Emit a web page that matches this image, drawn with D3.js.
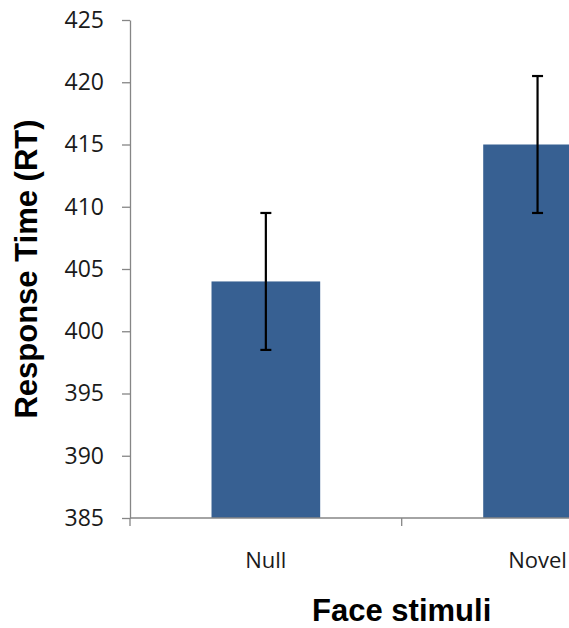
<!DOCTYPE html>
<html>
<head>
<meta charset="utf-8">
<script src="https://cdn.jsdelivr.net/npm/d3@7"></script>
<style>
  html, body { margin: 0; padding: 0; background: #fff; overflow: hidden; }
</style>
</head>
<body>
<svg id="chart"></svg>
<script>
// data
const categories = ["Null", "Novel"];
const meanRT = [404, 415];
const errRT = [5.5, 5.5];
const yTicks = [385, 390, 395, 400, 405, 410, 415, 420, 425];

const width = 569, height = 628;
const plotLeft = 130, plotRight = 673.4, plotTop = 20, plotBottom = 518;

const svg = d3.select("#chart")
  .attr("width", width)
  .attr("height", height);

const x = d3.scaleBand()
  .domain(categories)
  .range([plotLeft, plotRight])
  .paddingInner(0.6)
  .paddingOuter(0.3);

const y = d3.scaleLinear()
  .domain([385, 425])
  .range([plotBottom, plotTop]);

const axisColor = "#868686";

// bars
svg.append("g")
  .selectAll("rect")
  .data(categories)
  .join("rect")
  .attr("x", d => x(d))
  .attr("width", x.bandwidth())
  .attr("y", (d, i) => y(meanRT[i]))
  .attr("height", (d, i) => y(385) - y(meanRT[i]))
  .attr("fill", "#376092");

// y axis
const yAxis = svg.append("g")
  .attr("transform", `translate(${plotLeft},0)`)
  .call(d3.axisLeft(y).tickValues(yTicks).tickSize(8).tickPadding(18).tickSizeOuter(0));
yAxis.select(".domain").attr("stroke", axisColor).attr("stroke-width", 1.3);
yAxis.selectAll(".tick line").attr("stroke", axisColor).attr("stroke-width", 1.3);
yAxis.selectAll(".tick text")
  .attr("font-family", "'Open Sans', sans-serif")
  .attr("font-size", 23)
  .attr("fill", "#1a1a1a");

// x axis: ticks at category boundaries
const xAxisG = svg.append("g");
xAxisG.append("line")
  .attr("x1", plotLeft).attr("x2", plotRight)
  .attr("y1", plotBottom).attr("y2", plotBottom)
  .attr("stroke", axisColor).attr("stroke-width", 1.3);
const boundaries = [plotLeft, plotLeft + x.step(), plotRight];
xAxisG.selectAll("line.tk")
  .data(boundaries)
  .join("line")
  .attr("class", "tk")
  .attr("x1", d => d).attr("x2", d => d)
  .attr("y1", plotBottom).attr("y2", plotBottom + 8)
  .attr("stroke", axisColor).attr("stroke-width", 1.3);
xAxisG.selectAll("text")
  .data(categories)
  .join("text")
  .attr("x", d => x(d) + x.bandwidth() / 2)
  .attr("y", 568)
  .attr("text-anchor", "middle")
  .attr("font-family", "'Open Sans', sans-serif")
  .attr("font-size", 22)
  .attr("fill", "#1a1a1a")
  .text(d => d);

// error bars
const eb = svg.append("g")
  .attr("stroke", "#000")
  .attr("stroke-width", 2.2);
categories.forEach((c, i) => {
  const cx = x(c) + x.bandwidth() / 2;
  const top = y(meanRT[i] + errRT[i]);
  const bot = y(meanRT[i] - errRT[i]);
  eb.append("line").attr("x1", cx).attr("x2", cx).attr("y1", top).attr("y2", bot);
  eb.append("line").attr("x1", cx - 5.5).attr("x2", cx + 5.5).attr("y1", top).attr("y2", top);
  eb.append("line").attr("x1", cx - 5.5).attr("x2", cx + 5.5).attr("y1", bot).attr("y2", bot);
});

// axis titles
svg.append("text")
  .attr("x", (plotLeft + plotRight) / 2)
  .attr("y", 621)
  .attr("text-anchor", "middle")
  .attr("font-family", "'Liberation Sans', Arial, sans-serif")
  .attr("font-weight", "bold")
  .attr("font-size", 31)
  .attr("fill", "#000")
  .text("Face stimuli");

svg.append("text")
  .attr("transform", `translate(37,${(plotTop + plotBottom) / 2}) rotate(-90)`)
  .attr("text-anchor", "middle")
  .attr("font-family", "'Liberation Sans', Arial, sans-serif")
  .attr("font-weight", "bold")
  .attr("font-size", 31)
  .attr("fill", "#000")
  .text("Response Time (RT)");
</script>
</body>
</html>
